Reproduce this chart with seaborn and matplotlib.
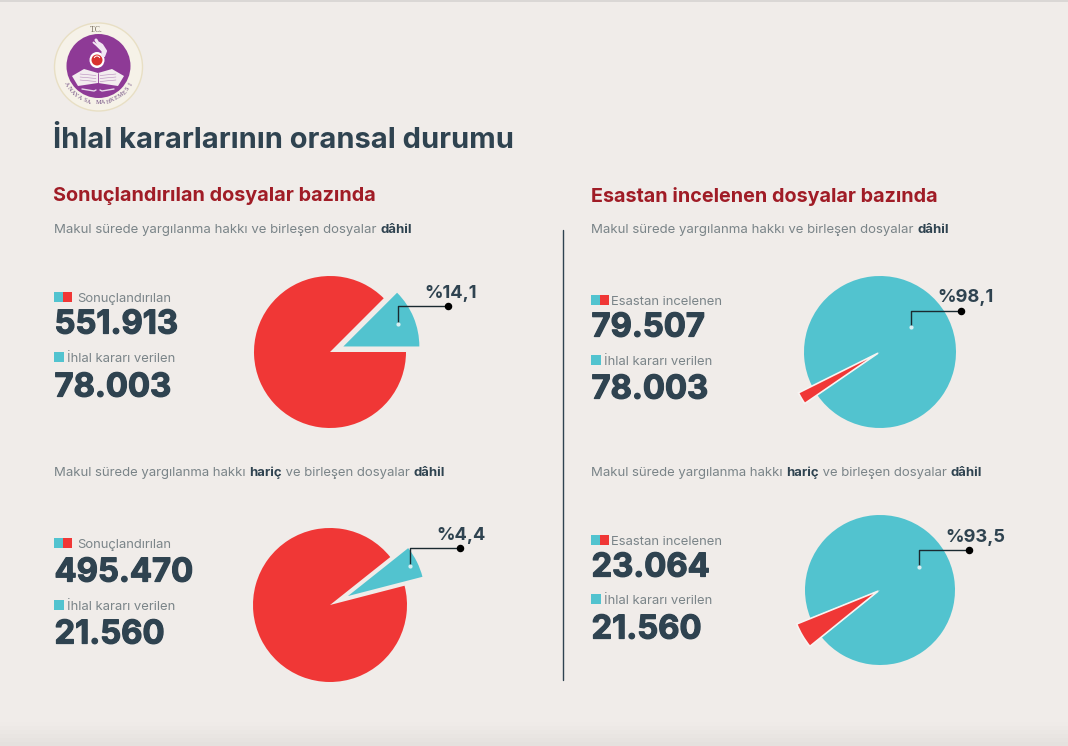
import numpy as np
import pandas as pd
import matplotlib
matplotlib.use("Agg")
import matplotlib.pyplot as plt
import matplotlib.patheffects as pe
from matplotlib.patches import Circle, Rectangle, Polygon, Ellipse, Wedge
import seaborn as sns

# values
titles = ["Sonuçlandırılan dosyalar bazında", "Esastan incelenen dosyalar bazında"]
total_labels = ["Sonuçlandırılan", "Sonuçlandırılan", "Esastan incelenen", "Esastan incelenen"]
total_values = ["551.913", "495.470", "79.507", "23.064"]
ihlal_values = ["78.003", "21.560", "78.003", "21.560"]
pct_labels = ["%14,1", "%4,4", "%98,1", "%93,5"]
# wedge sizes as drawn in the picture (degrees of the small slice)
small_slice_deg = [45, 24, 8, 17]
slice_start_deg = [0, 14.5, 206.5, 202]

BG = "#F0ECE9"
TEAL = "#52C3CF"
RED = "#F03736"
DARK = "#2F4350"
GREY = "#7A8488"
DRED = "#A01C26"
PURPLE = "#8E3A96"

W, H = 1068, 746
sns.set_theme(style="white")
plt.rcParams["font.family"] = ["Inter", "DejaVu Sans"]

fig = plt.figure(figsize=(W / 100, H / 100), dpi=100, facecolor=BG)
bg = fig.add_axes([0, 0, 1, 1])
bg.set_xlim(0, W)
bg.set_ylim(H, 0)
bg.axis("off")
# top edge and the slight shading at the bottom
bg.add_patch(Rectangle((0, 0), W, 2, color="#DAD7D5", lw=0))
for y, c in zip(range(722, 746, 4), ["#EFEBE8", "#EDE9E6", "#EBE7E4", "#E9E5E2", "#E7E3E0", "#E5E1DE"]):
    bg.add_patch(Rectangle((0, y), W, 4, color=c, lw=0))


def txt(x, y, s, size, color=GREY, weight="normal", ax=bg):
    return ax.text(x, y, s, fontsize=size, color=color, fontweight=weight, va="center", ha="left")


def big_number(x, y, s):
    t = txt(x + 0.5, y, s, 23.6, DARK, "bold")
    t.set_path_effects([pe.withStroke(linewidth=0.9, foreground=DARK)])


def mixed(x, y, parts, size=9.5):
    # parts are (text, bold) and follow each other on one line
    r = fig.canvas.get_renderer()
    for s, b in parts:
        t = txt(x, y, s, size, DARK if b else GREY, "bold" if b else "normal")
        x += t.get_window_extent(r).width


# logo
bg.add_patch(Circle((98.5, 67), 44, fc="#F6F2E8", ec="#E8DFC4", lw=1))
bg.add_patch(Circle((98.5, 66), 32, fc=PURPLE, ec="none"))
# flame, a few curved strokes
for dx, lw in [(0, 2.2), (3, 1.8), (-2.5, 1.4)]:
    bg.plot([96 + dx, 99 + dx, 104 + dx * 0.6, 103 + dx * 0.3], [40 + abs(dx), 45, 51, 56], color="#F1E6F2", lw=lw, solid_capstyle="round")
bg.add_patch(Ellipse((97, 60), 15, 16, fc="white", ec="none"))
bg.add_patch(Circle((97, 60), 5.5, fc="#D8322F", ec="none"))
bg.add_patch(Wedge((97, 59), 3.5, 200, 340, width=1, fc="white", ec="none"))
bg.add_patch(Polygon([[72, 76], [84, 69], [98, 73], [112, 69], [124, 76], [118, 86], [98, 83], [78, 86]], fc="#F3ECEF", ec="none"))
for yy in [74, 77, 80]:
    bg.plot([80, 96], [yy, yy + 1.5], color="#B58ABA", lw=0.4)
    bg.plot([100, 116], [yy + 1.5, yy], color="#B58ABA", lw=0.4)
bg.plot([98, 98], [73, 84], color=PURPLE, lw=0.6)
bg.plot([82, 94, 96], [89, 91, 90], color="#E7D8E9", lw=1)
bg.plot([114, 102, 100], [89, 91, 90], color="#E7D8E9", lw=1)
bg.text(96, 30, "T.C.", fontsize=5.5, color="#6F6555", ha="center", va="center", family="Liberation Serif")
mahkeme = "ANAYASA MAHKEMESİ"
for c, t in zip(mahkeme, np.linspace(-60, 60, len(mahkeme))):
    a = np.deg2rad(t)
    bg.text(98.5 + 37 * np.sin(a), 66 + 37 * np.cos(a), c, fontsize=4.4, color="#6E4A80",
            ha="center", va="center", family="Liberation Serif", rotation=t)

txt(53, 140, "İhlal kararlarının oransal durumu", 20.9, DARK, "bold")
txt(53, 196, titles[0], 14.3, DRED, "bold")
txt(591, 196, titles[1], 14.25, DRED, "bold")

dahil = [("Makul sürede yargılanma hakkı ve birleşen dosyalar ", False), ("dâhil", True)]
haric = [("Makul sürede yargılanma hakkı ", False), ("hariç", True), (" ve birleşen dosyalar ", False), ("dâhil", True)]
mixed(54, 230, dahil)
mixed(591, 230, dahil)
mixed(54, 473, haric, 9.45)
mixed(591, 473, haric, 9.45)

bg.plot([563, 563], [230, 680], color=DARK, lw=1)

# left blocks: legend square x, total label y, total y, ihlal label y, ihlal y
blocks = [
    (54, 297, 325, 357, 388),
    (54, 543, 573, 605, 635),
    (591, 300, 328, 360, 390),
    (591, 540, 568, 599, 630),
]
for i, (x, y1, y2, y3, y4) in enumerate(blocks):
    bg.add_patch(Rectangle((x, y1 - 5), 9, 10, fc=TEAL, ec="none"))
    bg.add_patch(Rectangle((x + 9, y1 - 5), 9, 10, fc=RED, ec="none"))
    txt(x + (23 if i < 2 else 20), y1 + 2, total_labels[i], 9.4)
    big_number(x, y2, total_values[i])
    bg.add_patch(Rectangle((x, y3 - 5), 9.5, 10, fc=TEAL, ec="none"))
    txt(x + 13, y3 + 2, "İhlal kararı verilen", 9.4)
    big_number(x, y4, ihlal_values[i])

# pies: centre x, centre y, radius in pixels, small slice explode, small slice radius factor
pies = [
    (330, 352, 76, 0.19, 1.0),
    (330, 605, 77, 0.26, 1.0),
    (880, 352, 76, 0.03, 1.17),
    (880, 590, 75, 0.03, 1.17),
]
big_colors = [RED, RED, TEAL, TEAL]
small_colors = [TEAL, TEAL, RED, RED]
for i, (cx, cy, r, ex, rf) in enumerate(pies):
    box = 1.5 * r
    ax = fig.add_axes([(cx - box) / W, 1 - (cy + box) / H, 2 * box / W, 2 * box / H])
    ax.patch.set_alpha(0)
    sizes = [small_slice_deg[i], 360 - small_slice_deg[i]]
    wedges, _ = ax.pie(sizes, startangle=slice_start_deg[i], colors=[small_colors[i], big_colors[i]],
                       explode=[ex, 0], radius=1, wedgeprops=dict(lw=0))
    wedges[0].set_radius(rf)
    wedges[0].set_zorder(5)
    if small_colors[i] == RED:
        wedges[0].set_edgecolor("#F7F4F2")
        wedges[0].set_linewidth(1.2)
    ax.set_xlim(-1.5, 1.5)
    ax.set_ylim(-1.5, 1.5)

# overlay for the callouts, above the pies
fg = fig.add_axes([0, 0, 1, 1], zorder=10)
fg.set_xlim(0, W)
fg.set_ylim(H, 0)
fg.axis("off")
fg.patch.set_alpha(0)

# callouts: start x, start y, corner y, end x, label x, label y
callouts = [
    (398, 324, 306, 448, 424.5, 293),
    (410, 566, 548, 460, 436.5, 535),
    (911, 327, 311, 961, 937.5, 298),
    (919, 567, 550, 969, 945.5, 537),
]
for i, (x0, y0, y1, x1, tx, ty) in enumerate(callouts):
    fg.plot([x0, x0, x1], [y0, y1, y1], color="#1A2A30", lw=1)
    fg.plot([x1], [y1], "o", color="black", ms=4.4)
    fg.plot([x0], [y0], "o", color="#D8EFF2", ms=2)
    txt(tx, ty, pct_labels[i], 13.2, DARK, "bold", ax=fg)

fig.savefig("out.png", dpi=100, facecolor=BG)
